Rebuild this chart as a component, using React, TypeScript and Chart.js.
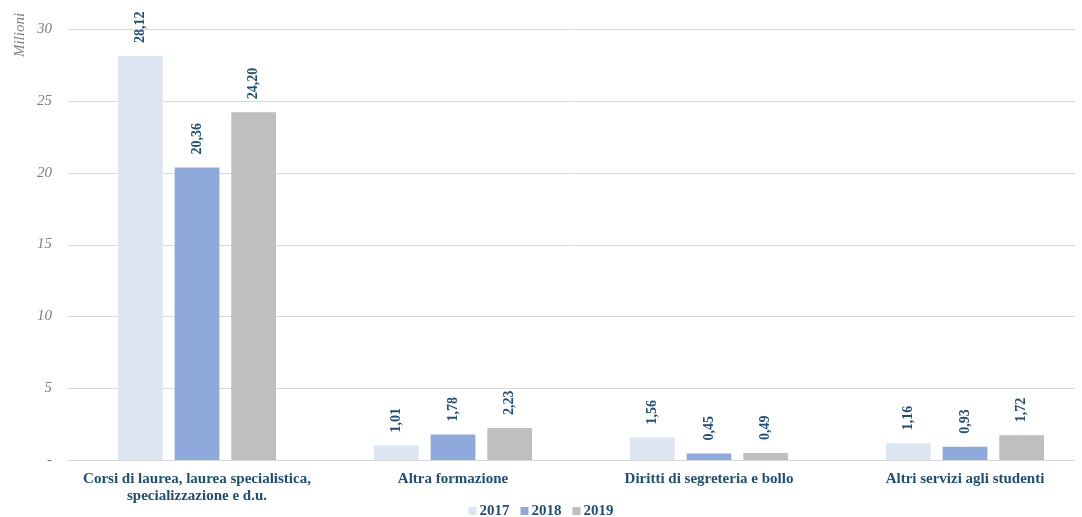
import React, { useEffect, useRef } from "react";
import { Chart, registerables } from "chart.js";

Chart.register(...registerables);

const categories: (string | string[])[] = [
  ["Corsi di laurea, laurea specialistica,", "specializzazione e d.u."],
  "Altra formazione",
  "Diritti di segreteria e bollo",
  "Altri servizi agli studenti",
];
const values2017 = [28.12, 1.01, 1.56, 1.16];
const values2018 = [20.36, 1.78, 0.45, 0.93];
const values2019 = [24.2, 2.23, 0.49, 1.72];
const seriesLabels = ["2017", "2018", "2019"];
const seriesColors = ["#DCE6F2", "#8EA9DB", "#BFBFBF"];
const yTicks = [0, 5, 10, 15, 20, 25, 30];

const SERIF = "'Liberation Serif', 'DejaVu Serif', serif";
const LABEL_BLUE = "#1F4E79";
const GRID_LEFT = 68;
const GRID_RIGHT = 1075;
// the original plot extends past the cropped right edge
const X_AXIS_LEFT = 69;
const X_AXIS_RIGHT = 1093;

const xExtentPlugin = {
  id: "xExtent",
  afterLayout(chart: any) {
    const x = chart.scales.x;
    x.left = X_AXIS_LEFT;
    x.right = X_AXIS_RIGHT;
    x.width = X_AXIS_RIGHT - X_AXIS_LEFT;
    x.configure();
  },
};

const gridPlugin = {
  id: "customGrid",
  beforeDatasetsDraw(chart: any) {
    const ctx = chart.ctx;
    const y = chart.scales.y;
    ctx.save();
    ctx.strokeStyle = "#D9D9D9";
    ctx.lineWidth = 1;
    yTicks.forEach((v) => {
      const py = Math.round(y.getPixelForValue(v)) + 0.5;
      ctx.beginPath();
      ctx.moveTo(GRID_LEFT, py);
      ctx.lineTo(GRID_RIGHT, py);
      ctx.stroke();
    });
    ctx.restore();
  },
};

const dataLabelPlugin = {
  id: "dataLabels",
  afterDatasetsDraw(chart: any) {
    const ctx = chart.ctx;
    ctx.save();
    ctx.font = `bold 14px ${SERIF}`;
    ctx.fillStyle = LABEL_BLUE;
    ctx.textAlign = "left";
    ctx.textBaseline = "middle";
    chart.data.datasets.forEach((ds: any, i: number) => {
      const meta = chart.getDatasetMeta(i);
      meta.data.forEach((bar: any, j: number) => {
        const v = ds.data[j] as number;
        const txt = v.toFixed(2).replace(".", ",");
        ctx.save();
        ctx.translate(bar.x, bar.y - 13);
        ctx.rotate(-Math.PI / 2);
        ctx.fillText(txt, 0, 0);
        ctx.restore();
      });
    });
    ctx.restore();
  },
};

const yTitlePlugin = {
  id: "yTitle",
  afterDraw(chart: any) {
    const ctx = chart.ctx;
    ctx.save();
    ctx.font = `italic 15px ${SERIF}`;
    ctx.fillStyle = "#7F7F7F";
    ctx.textAlign = "center";
    ctx.textBaseline = "middle";
    ctx.translate(20, 35);
    ctx.rotate(-Math.PI / 2);
    ctx.fillText("Milioni", 0, 0);
    ctx.restore();
  },
};

const legendPlugin = {
  id: "customLegend",
  afterDraw(chart: any) {
    const ctx = chart.ctx;
    ctx.save();
    ctx.font = `bold 15px ${SERIF}`;
    ctx.textBaseline = "middle";
    ctx.textAlign = "left";
    const box = 8;
    const gap = 3;
    const spacing = 11;
    const widths = seriesLabels.map((l) => ctx.measureText(l).width);
    const total =
      widths.reduce((a, w) => a + box + gap + w, 0) + spacing * (seriesLabels.length - 1);
    let x = 541 - total / 2;
    const y = 511;
    seriesLabels.forEach((l, i) => {
      ctx.fillStyle = seriesColors[i];
      ctx.fillRect(x, y - box / 2, box, box);
      x += box + gap;
      ctx.fillStyle = LABEL_BLUE;
      ctx.fillText(l, x, y);
      x += widths[i] + spacing;
    });
    ctx.restore();
  },
};

export default function App() {
  const ref = useRef<HTMLCanvasElement>(null);
  useEffect(() => {
    if (!ref.current) return;
    const chart = new Chart(ref.current, {
      type: "bar",
      data: {
        labels: categories,
        datasets: seriesLabels.map((l, i) => ({
          label: l,
          data: [values2017, values2018, values2019][i],
          backgroundColor: seriesColors[i],
        })),
      },
      options: {
        animation: false,
        responsive: false,
        maintainAspectRatio: false,
        layout: { padding: { top: 29, right: 7, left: 0, bottom: 0 } },
        datasets: {
          bar: { categoryPercentage: 0.664, barPercentage: 0.79 },
        },
        plugins: {
          tooltip: { enabled: false },
          legend: { display: false },
        },
        scales: {
          x: {
            grid: { display: false },
            border: { display: false },
            ticks: {
              color: LABEL_BLUE,
              padding: 2,
              font: { family: SERIF, size: 15, weight: "bold", lineHeight: 1.15 },
              maxRotation: 0,
              autoSkip: false,
            },
            afterFit(scale: any) {
              scale.height = 57;
            },
          },
          y: {
            min: 0,
            max: 30,
            afterBuildTicks(scale: any) {
              scale.ticks = yTicks.map((v) => ({ value: v }));
            },
            grid: { display: false },
            border: { display: false },
            ticks: {
              color: "#7F7F7F",
              padding: 8,
              font: { family: SERIF, size: 15, style: "italic" },
              callback: (v: any) => (v === 0 ? "-" : String(v)),
            },
            afterFit(scale: any) {
              scale.width = 68;
            },
          },
        },
      },
      plugins: [xExtentPlugin, gridPlugin, dataLabelPlugin, yTitlePlugin, legendPlugin],
    } as any);
    return () => chart.destroy();
  }, []);
  return (
    <div style={{ position: "absolute", left: 0, top: 0, width: 1082, height: 517, background: "#fff" }}>
      <canvas ref={ref} width={1082} height={517} />
    </div>
  );
}
